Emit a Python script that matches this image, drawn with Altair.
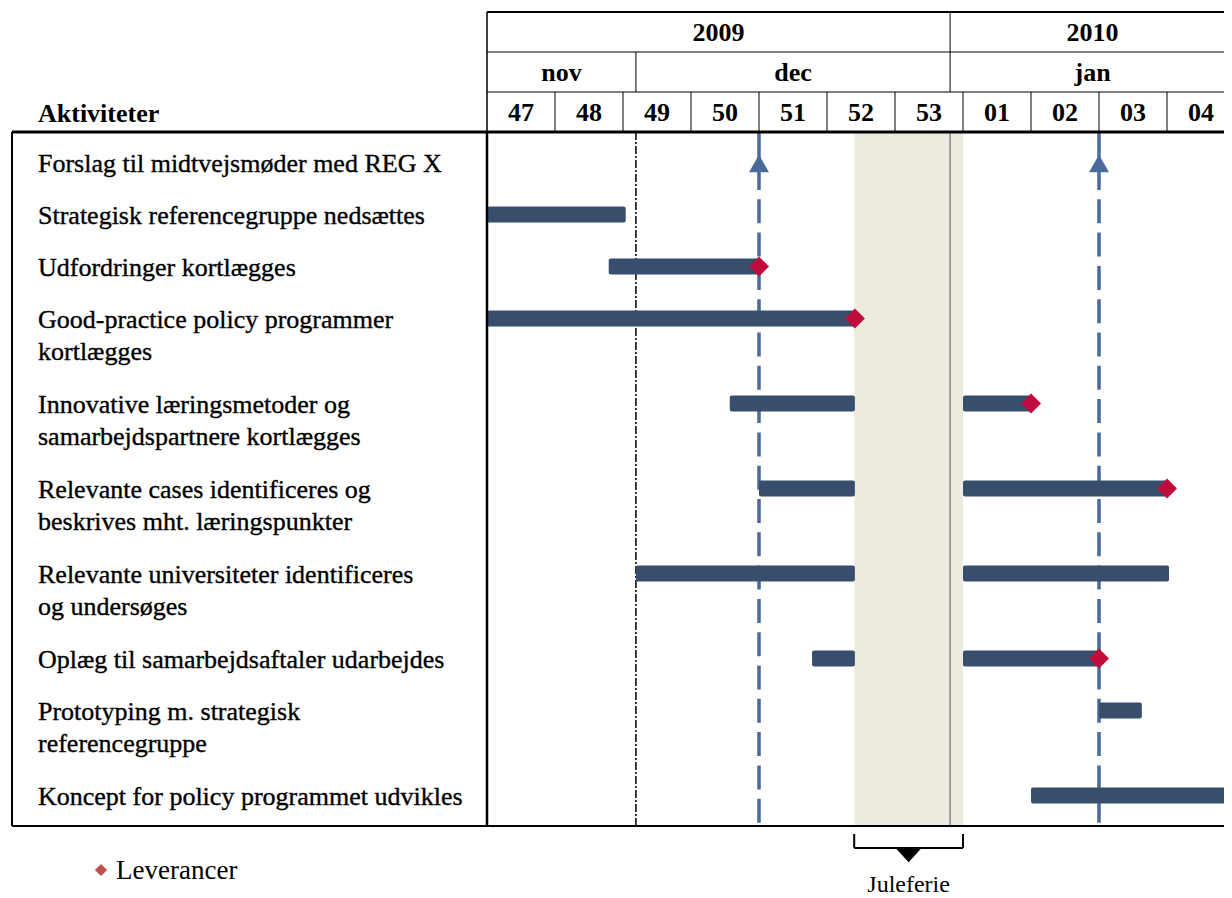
import altair as alt
import pandas as pd

# ---------------- data ----------------
weeks = ["47", "48", "49", "50", "51", "52", "53", "01", "02", "03", "04"]
years = ["2009", "2010"]
year_start = [0.0, 6.81]
year_end = [6.81, 11.0]
months = ["nov", "dec", "jan"]
month_start = [0.0, 2.19, 6.81]
month_end = [2.19, 6.81, 11.0]

activities = [
    ["Forslag til midtvejsmøder med REG X"],
    ["Strategisk referencegruppe nedsættes"],
    ["Udfordringer kortlægges"],
    ["Good-practice policy programmer", "kortlægges"],
    ["Innovative læringsmetoder og", "samarbejdspartnere kortlægges"],
    ["Relevante cases identificeres og", "beskrives mht. læringspunkter"],
    ["Relevante universiteter identificeres", "\u00a0og undersøges"],
    ["Oplæg til samarbejdsaftaler udarbejdes"],
    ["Prototyping m. strategisk", "referencegruppe"],
    ["Koncept for policy programmet udvikles"],
]
# task bars (activity index, start, end) in weeks from start of week 47
bar_task = [1, 2, 3, 4, 4, 5, 5, 6, 6, 7, 7, 8, 9]
bar_start = [0.0, 1.79, 0.0, 3.57, 7.0, 4.0, 7.0, 2.19, 7.0, 4.78, 7.0, 9.0, 8.0]
bar_end = [2.04, 4.0, 5.41, 5.41, 8.0, 5.41, 10.0, 5.41, 10.03, 5.41, 9.0, 9.63, 11.0]
# deliverables (Leverancer)
deliv_task = [2, 3, 4, 5, 7, 9]
deliv_week = [4.0, 5.41, 8.0, 10.0, 9.0, 11.0]
# mid-way meetings (arrows)
meeting_week = [4.0, 9.0]
holiday_start, holiday_end = 5.40, 7.0
year_break = 6.81
month_break = 2.19

# ---------------- layout ----------------
PX = 68.0           # pixels per week
W, H = 1216, 890
ORIGIN = 487 - 8    # plot x of start of week 47
umin = -ORIGIN / PX
umax = umin + W / PX


def u(page_x):
    return (page_x - 8 - ORIGIN) / PX


def v(page_y):
    return page_y - 8


xs = alt.Scale(domain=[umin, umax], nice=False, zero=False)
ys = alt.Scale(domain=[0, H], nice=False, zero=False, reverse=True)

FONT = "Liberation Serif"
BAR_C = "#384E6D"
DIA_C = "#C00C3C"
MS_C = "#4A6A9C"

# row geometry derived from number of label lines
row_h = [52 if len(a) == 1 else 85 for a in activities]
row_top = []
t = v(137)
for h in row_h:
    row_top.append(t)
    t += h
row_c = [rt + 25.5 for rt in row_top]

TOP, YM, MW, HB, BOT = v(12), v(52), v(92), v(132), v(826)
XL = u(12)


def X(f):
    return alt.X(f, scale=xs, axis=None)


def Y(f):
    return alt.Y(f, scale=ys, axis=None)


layers = []

# holiday shading
shade = pd.DataFrame({"a": [holiday_start], "b": [holiday_end], "t": [HB], "bt": [BOT]})
layers.append(alt.Chart(shade).mark_rect(color="#EDEBE0").encode(
    x=X("a:Q"), x2="b:Q", y=Y("t:Q"), y2="bt:Q"))

# year break inside plot
yb = pd.DataFrame({"x": [year_break], "t": [HB], "bt": [BOT]})
layers.append(alt.Chart(yb).mark_rule(color="#555555", strokeWidth=1).encode(
    x=X("x:Q"), y=Y("t:Q"), y2="bt:Q"))

# month break dash-dot
mb = pd.DataFrame({"x": [month_break], "t": [HB], "bt": [BOT]})
layers.append(alt.Chart(mb).mark_rule(color="black", strokeWidth=1.5, strokeDash=[8, 2, 2, 2]).encode(
    x=X("x:Q"), y=Y("t:Q"), y2="bt:Q"))

# milestone lines
ms = pd.DataFrame({"x": meeting_week, "t": [HB] * 2, "s": [v(190)] * 2, "bt": [BOT] * 2,
                   "c": [row_c[0] + 1] * 2})
layers.append(alt.Chart(ms).mark_rule(color=MS_C, strokeWidth=3.5, strokeDash=[24, 9.3],
                                      strokeDashOffset=24).encode(
    x=X("x:Q"), y=Y("s:Q"), y2="bt:Q"))
layers.append(alt.Chart(ms).mark_rule(color=MS_C, strokeWidth=3.5).encode(
    x=X("x:Q"), y=Y("t:Q"), y2="s:Q"))
layers.append(alt.Chart(ms).mark_point(shape="triangle-up", filled=True, size=400, color=MS_C,
                                       opacity=1).encode(x=X("x:Q"), y=Y("c:Q")))

# task bars
bars = pd.DataFrame({"a": bar_start, "b": bar_end,
                     "y0": [row_c[i] - 8 for i in bar_task],
                     "y1": [row_c[i] + 8 for i in bar_task]})
layers.append(alt.Chart(bars).mark_rect(color=BAR_C, cornerRadius=2, clip=True).encode(
    x=X("a:Q"), x2="b:Q", y=Y("y0:Q"), y2="y1:Q"))

# deliverables
dl = pd.DataFrame({"x": deliv_week, "y": [row_c[i] for i in deliv_task]})
layers.append(alt.Chart(dl).mark_point(shape="diamond", filled=True, size=400, color=DIA_C,
                                       opacity=1, clip=True).encode(x=X("x:Q"), y=Y("y:Q")))

# black table lines
lx1, lx2, ly1, ly2, lw = [], [], [], [], []


def line(a, b, c, d, w):
    lx1.append(a); lx2.append(b); ly1.append(c); ly2.append(d); lw.append(w)


line(0, umax, TOP, TOP, 2)
line(0, umax, YM, YM, 1)
line(0, umax, MW, MW, 1)
line(XL, umax, HB, HB, 3)
line(XL, umax, BOT, BOT, 2)
line(0, 0, TOP, HB, 1.5)
line(year_end[0], year_end[0], TOP, MW, 1)
line(month_end[0], month_end[0], YM, MW, 1)
for k in range(1, len(weeks)):
    line(k, k, MW, HB, 1)
line(0, 0, HB, BOT, 2.5)
line(XL, XL, HB, BOT, 2)
# Juleferie bracket
BR0, BR1 = v(834), v(848)
line(holiday_start, holiday_start, BR0, BR1, 2)
line(holiday_end, holiday_end, BR0, BR1, 2)
line(holiday_start, holiday_end, BR1, BR1, 2)
lines = pd.DataFrame({"a": lx1, "b": lx2, "c": ly1, "d": ly2, "w": lw})
layers.append(alt.Chart(lines).mark_rule(color="black").encode(
    x=X("a:Q"), x2="b:Q", y=Y("c:Q"), y2="d:Q",
    strokeWidth=alt.StrokeWidth("w:Q", scale=None)))

tri = pd.DataFrame({"x": [(holiday_start + holiday_end) / 2], "y": [v(855)]})
layers.append(alt.Chart(tri).mark_point(shape="M-1,-0.55L1,-0.55L0,0.55Z", filled=True, size=700,
                                        color="black", opacity=1).encode(x=X("x:Q"), y=Y("y:Q")))

# header texts
hdr = pd.DataFrame({
    "x": [(a + b) / 2 for a, b in zip(year_start, year_end)]
         + [(a + b) / 2 for a, b in zip(month_start, month_end)]
         + [k + 0.5 for k in range(len(weeks))],
    "y": [v(33)] * len(years) + [v(73)] * len(months) + [v(113)] * len(weeks),
    "t": years + months + weeks,
})
layers.append(alt.Chart(hdr).mark_text(font=FONT, fontSize=26, fontWeight="bold", color="black",
                                       baseline="middle", align="center").encode(
    x=X("x:Q"), y=Y("y:Q"), text="t:N"))

akt = pd.DataFrame({"x": [u(38)], "y": [v(114)], "t": ["Aktiviteter"]})
layers.append(alt.Chart(akt).mark_text(font=FONT, fontSize=26, fontWeight="bold", color="black",
                                       baseline="middle", align="left").encode(
    x=X("x:Q"), y=Y("y:Q"), text="t:N"))

# activity labels
lt, ly = [], []
for i, a in enumerate(activities):
    for j, s in enumerate(a):
        lt.append(s)
        ly.append(row_top[i] + 27 + 32 * j)
labels = pd.DataFrame({"x": [u(38)] * len(lt), "y": ly, "t": lt})
layers.append(alt.Chart(labels).mark_text(font=FONT, fontSize=26, color="black",
                                          stroke="black", strokeWidth=0.35,
                                          baseline="middle", align="left").encode(
    x=X("x:Q"), y=Y("y:Q"), text="t:N"))

# legend
lg = pd.DataFrame({"x": [u(101)], "y": [v(870)]})
layers.append(alt.Chart(lg).mark_point(shape="diamond", filled=True, size=150, color="#C0504D",
                                       opacity=1).encode(x=X("x:Q"), y=Y("y:Q")))
lgt = pd.DataFrame({"x": [u(116)], "y": [v(871)], "t": ["Leverancer"]})
layers.append(alt.Chart(lgt).mark_text(font=FONT, fontSize=27, color="black",
                                       baseline="middle", align="left").encode(
    x=X("x:Q"), y=Y("y:Q"), text="t:N"))

jt = pd.DataFrame({"x": [(holiday_start + holiday_end) / 2], "y": [v(892)], "t": ["Juleferie"]})
layers.append(alt.Chart(jt).mark_text(font=FONT, fontSize=24, color="black",
                                      baseline="alphabetic", align="center").encode(
    x=X("x:Q"), y=Y("y:Q"), text="t:N"))

chart = alt.layer(*layers).properties(
    width=W, height=H, padding=0,
    autosize=alt.AutoSizeParams(type="none"),
).configure_view(strokeWidth=0)

chart.save("out.html", embed_options={"renderer": "svg", "actions": False})
